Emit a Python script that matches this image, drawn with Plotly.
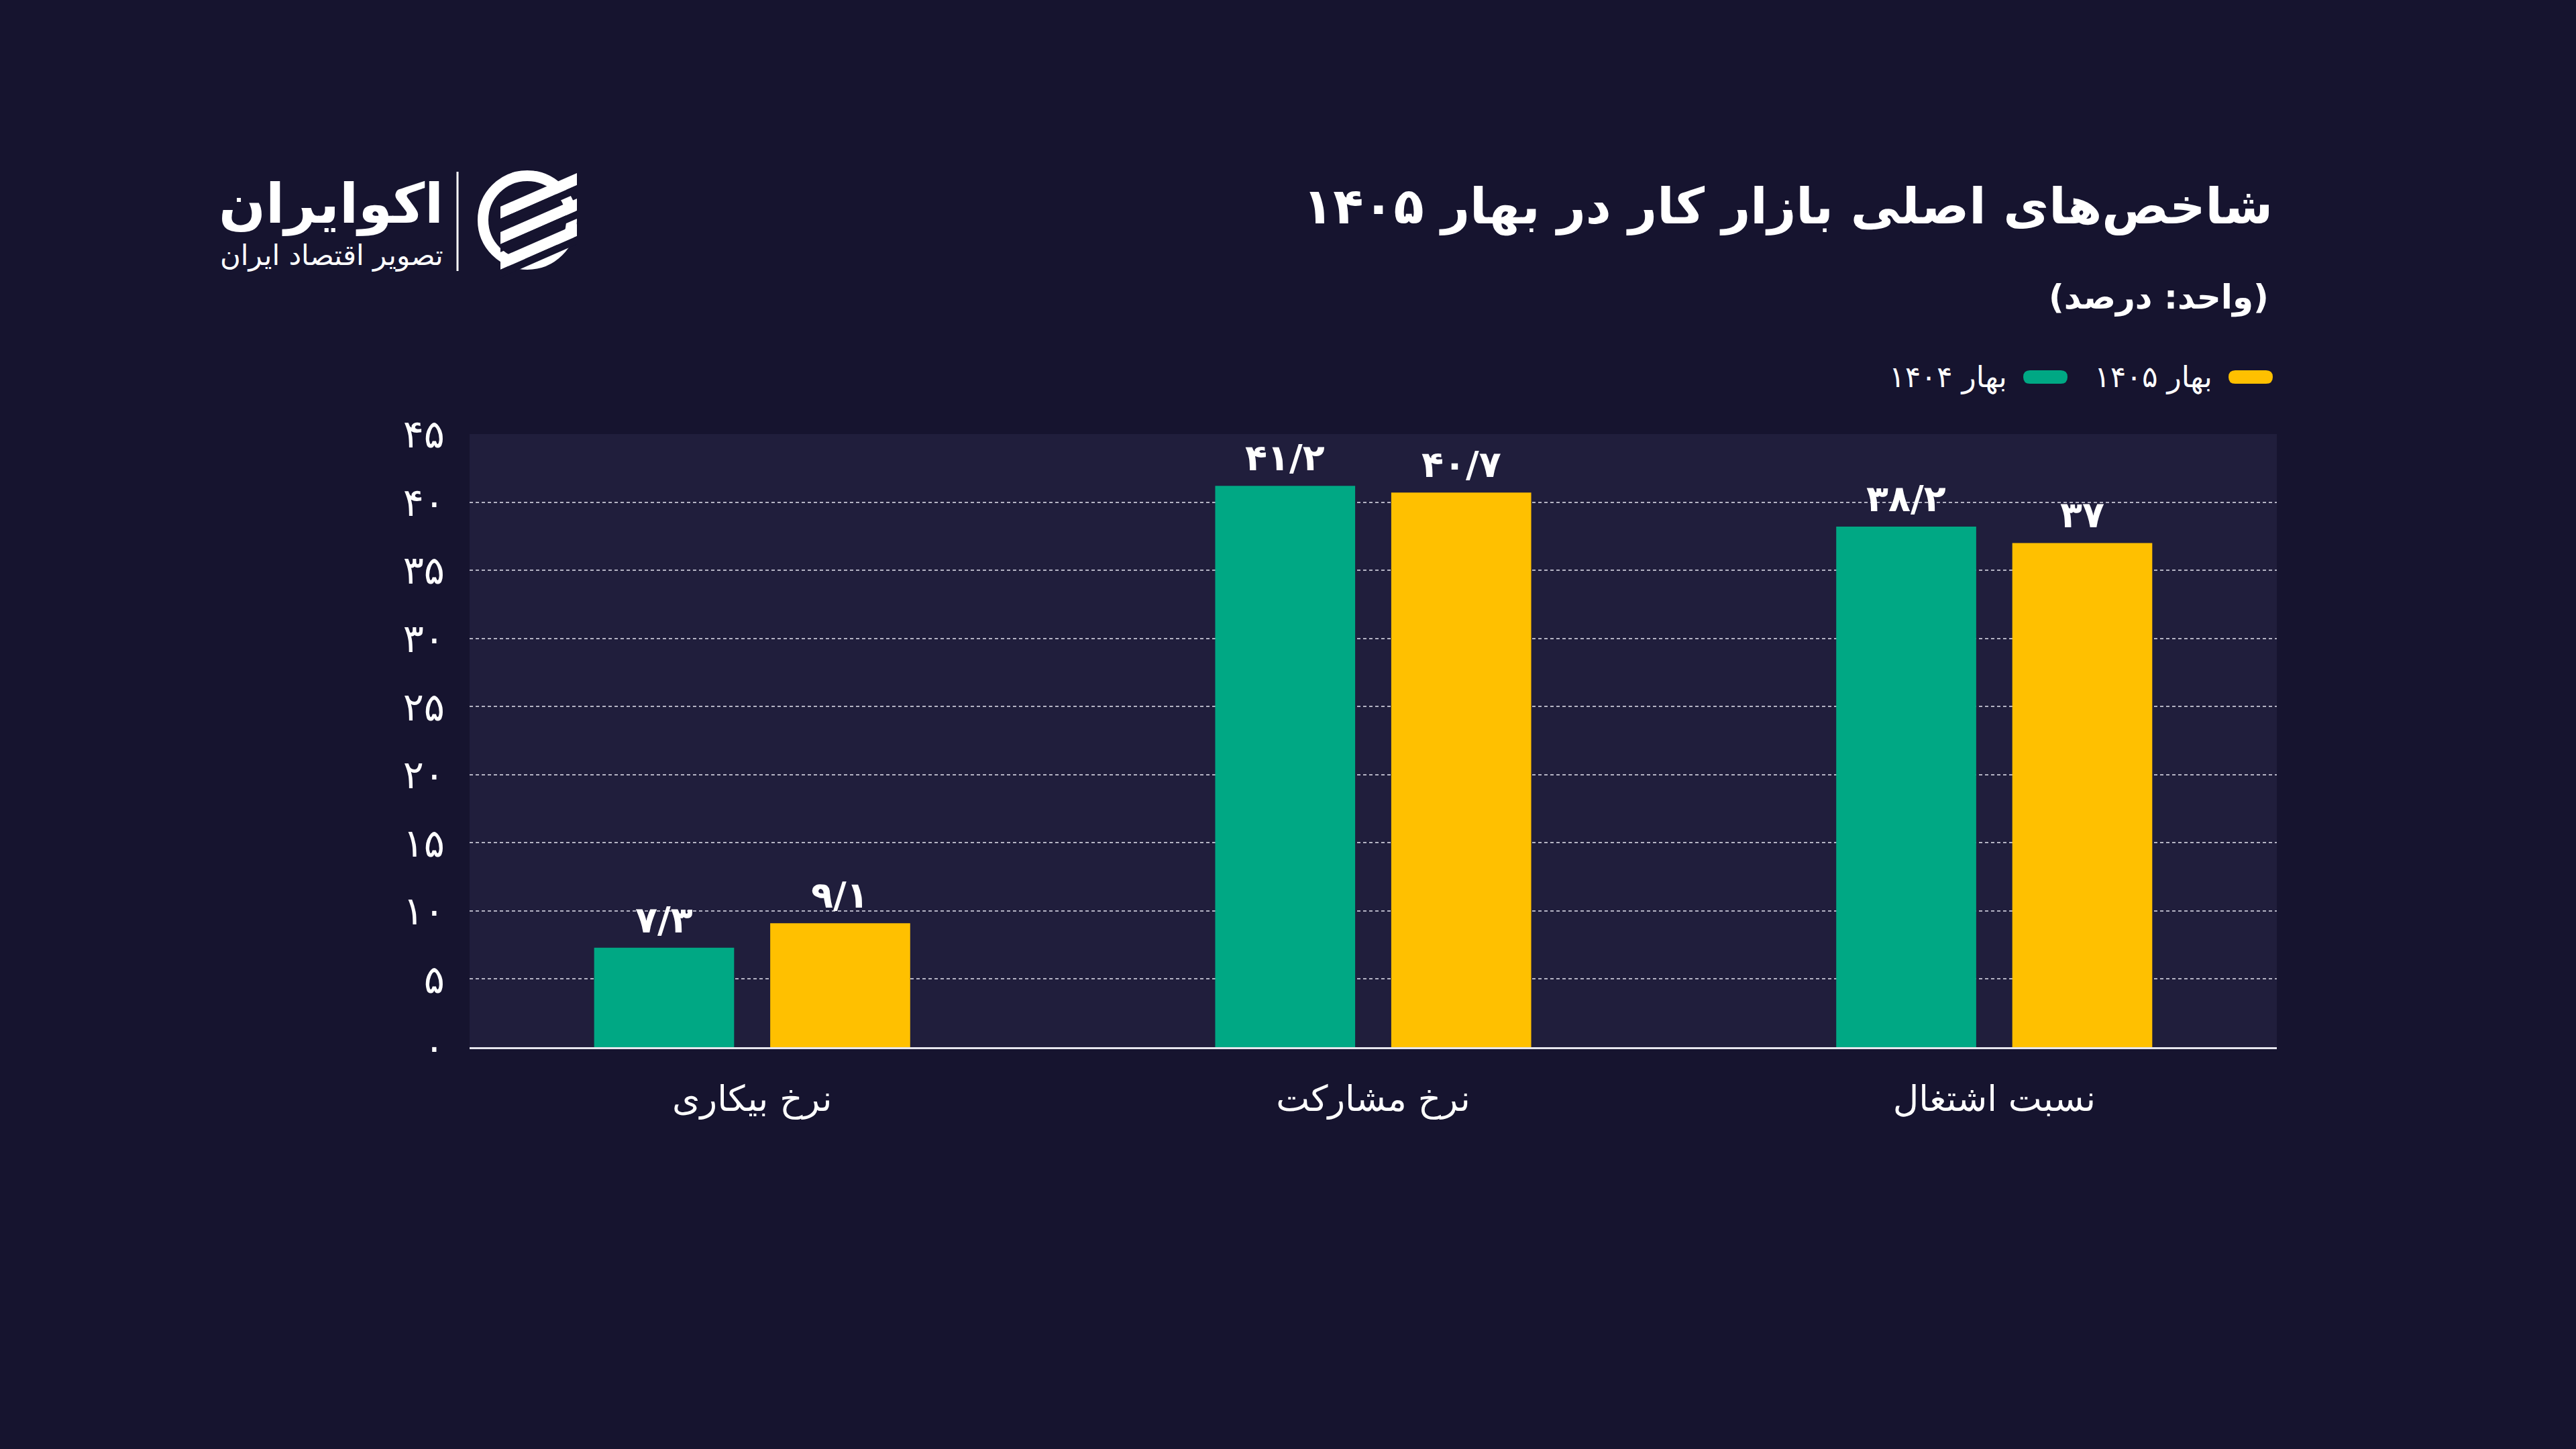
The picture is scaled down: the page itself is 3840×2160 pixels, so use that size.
import plotly.graph_objects as go

# ---------------- data ----------------
categories = ["نرخ بیکاری", "نرخ مشارکت", "نسبت اشتغال"]
spring_1404 = [7.3, 41.2, 38.2]
spring_1405 = [9.1, 40.7, 37.0]
series_names = ["بهار ۱۴۰۴", "بهار ۱۴۰۵"]
y_ticks = [0, 5, 10, 15, 20, 25, 30, 35, 40, 45]

title_text = "شاخص‌های اصلی بازار کار در بهار ۱۴۰۵"
subtitle_text = "(واحد: درصد)"
brand_name = "اکوایران"
brand_tag = "تصویر اقتصاد ایران"

# ---------------- style ----------------
W, H = 3840, 2160
BG = "#16142f"
PLOT_BG = "#201e3c"
GREEN = "#00a884"
YELLOW = "#ffc000"
FONT = "DejaVu Sans"

PL, PR, PT, PB = 700, 3394, 647, 1561  # plot area in pixels
BARGAP, GROUPGAP = 0.433, 0.205


def fa_digits(s):
    return s.translate(str.maketrans("0123456789", "۰۱۲۳۴۵۶۷۸۹"))


def fa_num(v):
    s = ("%g" % v).replace(".", "/")
    return fa_digits(s)


def px(x):
    return (x - PL) / (PR - PL)


def py(y):
    return (PB - y) / (PB - PT)


fig = go.Figure()
series = [(series_names[0], spring_1404, GREEN), (series_names[1], spring_1405, YELLOW)]
n_series = len(series)
slot = (1 - BARGAP) / n_series
for si, (name, vals, col) in enumerate(series):
    fig.add_trace(go.Bar(
        x=categories, y=vals, name=name, marker=dict(color=col, line=dict(width=0)),
        showlegend=False, hoverinfo="x+y",
    ))
    # value labels, placed above each bar's centre
    offset = -(1 - BARGAP) / 2 + slot * (si + 0.5)
    for ci, v in enumerate(vals):
        fig.add_annotation(
            x=ci + offset, y=v, xref="x", yref="y", text="<b>" + fa_num(v) + "</b>",
            showarrow=False, yanchor="bottom", xanchor="center", yshift=8,
            font=dict(family=FONT, size=54, color="white"),
        )

fig.update_layout(
    width=W, height=H,
    paper_bgcolor=BG, plot_bgcolor=PLOT_BG,
    margin=dict(l=PL, r=W - PR, t=PT, b=H - PB, pad=0),
    barmode="group", bargap=BARGAP, bargroupgap=GROUPGAP,
    showlegend=False,
    font=dict(family=FONT, color="white"),
)
fig.update_xaxes(
    range=[-0.455, 2.455], showgrid=False, showline=True, linecolor="#e6e6ee", linewidth=3,
    ticks="", tickfont=dict(family=FONT, size=53, color="white"), ticklabelstandoff=28,
    zeroline=False,
)
fig.update_yaxes(
    range=[0, 45], tickvals=y_ticks, ticktext=[fa_digits(str(t)) for t in y_ticks],
    showgrid=True, gridcolor="rgba(230,230,240,0.75)", gridwidth=2, griddash="5px,4px",
    zeroline=False, showline=False, ticks="",
    tickfont=dict(family=FONT, size=58, color="white"), ticklabelstandoff=36,
)

# ---- title / subtitle ----
fig.add_annotation(text="<b>" + title_text + "</b>", xref="paper", yref="paper",
                   x=px(3390), y=py(308), xanchor="right", yanchor="middle", showarrow=False,
                   font=dict(family=FONT, size=74, color="white"))
fig.add_annotation(text="<b>" + subtitle_text + "</b>", xref="paper", yref="paper",
                   x=px(3384), y=py(443), xanchor="right", yanchor="middle", showarrow=False,
                   font=dict(family=FONT, size=50, color="white"))

# ---- manual RTL legend ----
legend_items = [(series_names[1], YELLOW, 3388), (series_names[0], GREEN, 3082)]
for name, col, right in legend_items:
    x1, x0 = right, right - 66
    yc = 562
    r = 10
    path = (f"M {px(x0 + r)} {py(yc - r)} L {px(x1 - r)} {py(yc - r)} "
            f"Q {px(x1)} {py(yc - r)} {px(x1)} {py(yc)} Q {px(x1)} {py(yc + r)} {px(x1 - r)} {py(yc + r)} "
            f"L {px(x0 + r)} {py(yc + r)} Q {px(x0)} {py(yc + r)} {px(x0)} {py(yc)} "
            f"Q {px(x0)} {py(yc - r)} {px(x0 + r)} {py(yc - r)} Z")
    fig.add_shape(type="path", path=path, xref="paper", yref="paper",
                  fillcolor=col, line=dict(width=0))
    fig.add_annotation(text=name, xref="paper", yref="paper", x=px(x0 - 22), y=py(yc),
                       xanchor="right", yanchor="middle", showarrow=False,
                       font=dict(family=FONT, size=44, color="white"))

# ---- brand logo ----
fig.add_annotation(text="<b>" + brand_name + "</b>", xref="paper", yref="paper",
                   x=px(663), y=py(304), xanchor="right", yanchor="middle", showarrow=False,
                   font=dict(family=FONT, size=82, color="white"))
fig.add_annotation(text=brand_tag, xref="paper", yref="paper",
                   x=px(663), y=py(380), xanchor="right", yanchor="middle", showarrow=False,
                   font=dict(family=FONT, size=42, color="white"))
fig.add_shape(type="line", xref="paper", yref="paper", x0=px(682), x1=px(682), y0=py(256), y1=py(404),
              line=dict(color="white", width=3))
# icon: ring + slanted stripes
cx, cy, rad = 786, 328, 66
fig.add_shape(type="circle", xref="paper", yref="paper",
              x0=px(cx - rad), x1=px(cx + rad), y0=py(cy + rad), y1=py(cy - rad),
              line=dict(color="white", width=16), fillcolor="rgba(0,0,0,0)")
for k in range(3):
    oy = -42 + k * 38
    pts = [(cx - 40, cy + oy + 22), (cx + 74, cy + oy - 28), (cx + 74, cy + oy - 10), (cx - 40, cy + oy + 40)]
    path = "M " + " L ".join(f"{px(a)} {py(b)}" for a, b in pts) + " Z"
    fig.add_shape(type="path", path=path, xref="paper", yref="paper",
                  fillcolor="white", line=dict(width=0))
    pts2 = [(cx - 40, cy + oy + 40), (cx + 74, cy + oy - 10), (cx + 74, cy + oy + 2), (cx - 40, cy + oy + 52)]
    path2 = "M " + " L ".join(f"{px(a)} {py(b)}" for a, b in pts2) + " Z"
    fig.add_shape(type="path", path=path2, xref="paper", yref="paper",
                  fillcolor=BG, line=dict(width=0))

fig.write_html("out.html")
